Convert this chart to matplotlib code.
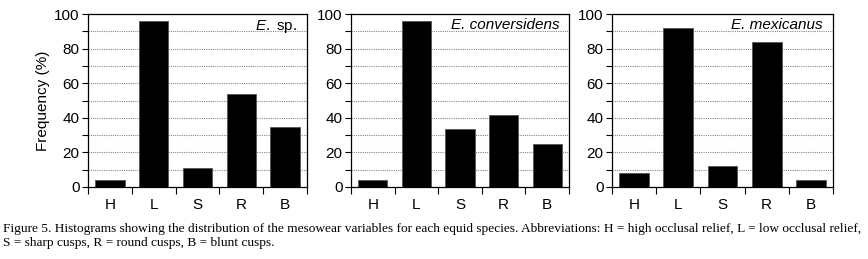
import numpy as np
import matplotlib.pyplot as plt
from matplotlib.ticker import MultipleLocator

categories = ["H", "L", "S", "R", "B"]
species = ["E. sp.", "E. conversidens", "E. mexicanus"]
sp_values = [4, 96, 11, 54, 34.5]
conversidens_values = [4, 96, 33.5, 41.5, 25]
mexicanus_values = [8, 92, 12, 84, 4]
caption = ("Figure 5. Histograms showing the distribution of the mesowear variables for each equid species. "
           "Abbreviations: H = high occlusal relief, L = low occlusal relief,\n"
           "S = sharp cusps, R = round cusps, B = blunt cusps.")

plt.rcParams["font.family"] = ["Liberation Sans", "DejaVu Sans"]
plt.rcParams["mathtext.fontset"] = "custom"
plt.rcParams["mathtext.it"] = "Liberation Sans:italic"
plt.rcParams["mathtext.rm"] = "Liberation Sans"

W, H = 868, 259
fig = plt.figure(figsize=(W / 100, H / 100), dpi=100)

# axes boxes in pixels: left, right
boxes = [(88, 307), (351, 569), (612, 833)]
top, bottom = 14, 187
all_values = [sp_values, conversidens_values, mexicanus_values]
fs = 11

x = np.arange(len(categories))
for i, ((l, r), vals) in enumerate(zip(boxes, all_values)):
    ax = fig.add_axes([l / W, 1 - bottom / H, (r - l) / W, (bottom - top) / H])
    ax.bar(x, vals, width=0.67, color="black", edgecolor="#555555", linewidth=0.6, zorder=3)
    ax.set_xlim(-0.5, 4.5)
    ax.set_ylim(0, 100)
    ax.yaxis.set_major_locator(MultipleLocator(20))
    ax.yaxis.set_minor_locator(MultipleLocator(10))
    for g in range(10, 100, 10):
        ax.axhline(g, color="#888888", linestyle=(0, (1, 1)), linewidth=0.8, zorder=1)
    # ticks between categories, labels at centres
    ax.set_xticks(np.arange(-0.5, 5, 1))
    ax.set_xticklabels([])
    ax.set_xticks(x, minor=True)
    ax.set_xticklabels(categories, minor=True)
    ax.tick_params(axis="x", which="major", direction="out", length=5, width=0.8)
    ax.tick_params(axis="x", which="minor", length=0, pad=8, labelsize=fs)
    ax.tick_params(axis="y", which="both", direction="out", length=4, width=0.8, labelsize=fs, pad=2)
    for s in ax.spines.values():
        s.set_linewidth(0.9)
    if i == 0:
        ax.set_ylabel("Frequency (%)", fontsize=fs, labelpad=3)
        label = r"$\it{E.}$ sp."
        style = "normal"
    else:
        label = species[i]
        style = "italic"
    ax.text(0.955, 0.975, label, transform=ax.transAxes, ha="right", va="top",
            fontsize=fs, style=style)

fig.text(3 / W, 1 - 223 / H, caption, ha="left", va="top", fontsize=9.6,
         family=["Liberation Serif", "DejaVu Serif"], linespacing=1.2)

fig.savefig("out.png", dpi=100)
